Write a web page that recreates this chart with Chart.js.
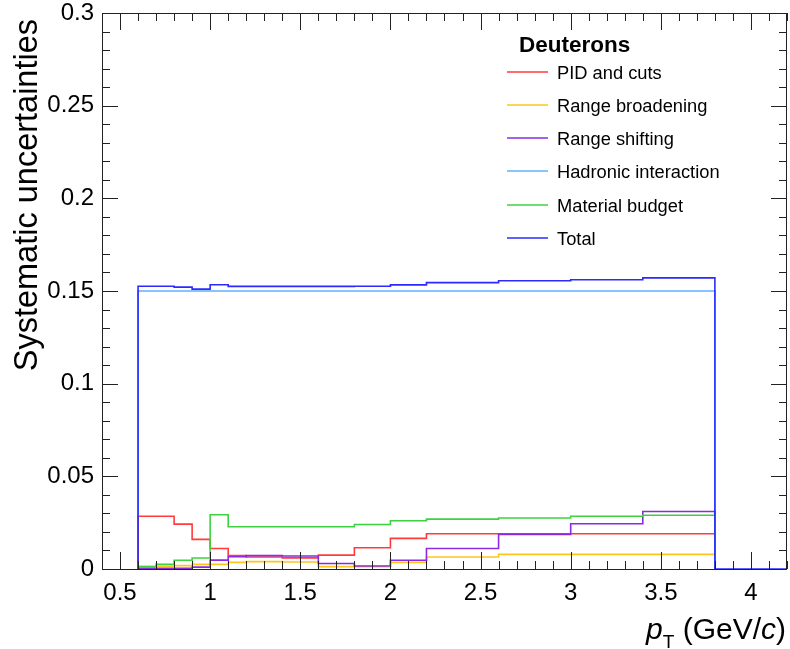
<!DOCTYPE html>
<html>
<head>
<meta charset="utf-8">
<script src="https://cdn.jsdelivr.net/npm/chart.js@4.4.1/dist/chart.umd.min.js"></script>
<style>
  html, body { margin: 0; padding: 0; background: #ffffff; }
  canvas { display: block; }
</style>
</head>
<body>
<canvas id="c" width="790" height="649"></canvas>
<script>
// ---- data ----
const binEdges = [0.6, 0.7, 0.8, 0.9, 1.0, 1.1, 1.2, 1.4, 1.6, 1.8, 2.0, 2.2, 2.6, 3.0, 3.4, 3.8];
const pidCuts        = [0.0285, 0.0285, 0.0242, 0.0160, 0.0111, 0.0072, 0.0065, 0.0060, 0.0075, 0.0115, 0.0165, 0.0190, 0.0190, 0.0190, 0.0190];
const rangeBroaden   = [0.0013, 0.0015, 0.0018, 0.0025, 0.0025, 0.0036, 0.0040, 0.0038, 0.0013, 0.0013, 0.0036, 0.0065, 0.0079, 0.0079, 0.0079];
const rangeShift     = [0.0004, 0.0004, 0.0004, 0.0010, 0.0048, 0.0066, 0.0072, 0.0070, 0.0030, 0.0016, 0.0047, 0.0111, 0.0187, 0.0244, 0.0310];
const hadronic       = [0.150, 0.150, 0.150, 0.150, 0.150, 0.150, 0.150, 0.150, 0.150, 0.150, 0.150, 0.150, 0.150, 0.150, 0.150];
const materialBudget = [0.0013, 0.0025, 0.0047, 0.0059, 0.0293, 0.0228, 0.0228, 0.0228, 0.0228, 0.0240, 0.0260, 0.0269, 0.0275, 0.0285, 0.0290];
const totalUnc       = [0.1526, 0.1526, 0.1521, 0.1510, 0.1534, 0.1525, 0.1525, 0.1525, 0.1525, 0.1526, 0.1533, 0.1545, 0.1555, 0.1561, 0.1571];
const seriesLabels = ["PID and cuts", "Range broadening", "Range shifting", "Hadronic interaction", "Material budget", "Total"];
const legendTitle = "Deuterons";
const xRange = [0.4, 4.2];
const yRange = [0, 0.3];
const xTickStep = 0.5;
const yTickStep = 0.05;

// ---- helpers ----
function histPoints(vals, extendTo) {
  const pts = [{x: binEdges[0], y: 0}];
  for (let i = 0; i < vals.length; i++) pts.push({x: binEdges[i], y: vals[i]});
  const last = binEdges[binEdges.length - 1];
  pts.push({x: last, y: vals[vals.length - 1]});
  pts.push({x: last, y: 0});
  if (extendTo !== undefined) pts.push({x: extendTo, y: 0});
  return pts;
}
const FONT = "'Liberation Sans', Arial, Helvetica, sans-serif";
const colors = ["#ff3b3b", "#ffc61a", "#8a2be2", "#62b0ff", "#3fd23f", "#2b2bff"];
const allVals = [pidCuts, rangeBroaden, rangeShift, hadronic, materialBudget, totalUnc];
const orders = [3, 5, 2, 4, 1, 0];

const datasets = allVals.map((v, i) => ({
  label: seriesLabels[i],
  data: histPoints(v, i === 5 ? xRange[1] : undefined),
  borderColor: colors[i],
  borderWidth: 1.6,
  pointRadius: 0,
  fill: false,
  stepped: 'before',
  tension: 0,
  order: orders[i]
}));

const decor = {
  id: 'decor',
  afterDraw(chart) {
    const ctx = chart.ctx;
    const xs = chart.scales.x, ys = chart.scales.y;
    const a = chart.chartArea;
    ctx.save();
    ctx.strokeStyle = '#222';
    ctx.lineWidth = 1;
    // frame
    ctx.strokeRect(Math.round(a.left) + 0.5, Math.round(a.top) + 0.5, Math.round(a.right - a.left) - 1, Math.round(a.bottom - a.top));
    // x ticks (top and bottom, inward)
    for (let k = Math.round(xRange[0] * 10); k <= Math.round(xRange[1] * 10); k++) {
      const v = k / 10;
      const px = Math.round(xs.getPixelForValue(v)) + 0.5;
      const major = (k % 5 === 0);
      const len = major ? 17 : 8;
      ctx.beginPath();
      ctx.moveTo(px, a.bottom); ctx.lineTo(px, a.bottom - len);
      ctx.moveTo(px, a.top); ctx.lineTo(px, a.top + len);
      ctx.stroke();
    }
    // y ticks (left and right, inward)
    for (let k = 0; k <= 30; k++) {
      const v = k / 100;
      const py = Math.round(ys.getPixelForValue(v)) + 0.5;
      const major = (k % 5 === 0);
      const len = major ? 16 : 8;
      ctx.beginPath();
      ctx.moveTo(a.left, py); ctx.lineTo(a.left + len, py);
      ctx.moveTo(a.right, py); ctx.lineTo(a.right - len, py);
      ctx.stroke();
    }
    // y title
    ctx.fillStyle = '#000';
    ctx.save();
    ctx.translate(28, 19);
    ctx.rotate(-Math.PI / 2);
    ctx.font = '32.5px ' + FONT;
    ctx.textAlign = 'right';
    ctx.textBaseline = 'middle';
    ctx.fillText('Systematic uncertainties', 0, 0);
    ctx.restore();
    // x title: p_T (GeV/c)
    const parts = [
      {t: 'p', f: 'italic 30px ' + FONT, dy: 0},
      {t: 'T', f: '19px ' + FONT, dy: 9},
      {t: ' (GeV/', f: '30px ' + FONT, dy: 0},
      {t: 'c', f: 'italic 30px ' + FONT, dy: 0},
      {t: ')', f: '30px ' + FONT, dy: 0}
    ];
    let w = 0;
    parts.forEach(p => { ctx.font = p.f; p.w = ctx.measureText(p.t).width; w += p.w; });
    let x0 = 786 - w;
    const base = 639;
    ctx.textAlign = 'left';
    ctx.textBaseline = 'alphabetic';
    parts.forEach(p => { ctx.font = p.f; ctx.fillText(p.t, x0, base + p.dy); x0 += p.w; });
    // legend
    ctx.font = 'bold 22.5px ' + FONT;
    ctx.textBaseline = 'middle';
    ctx.fillText(legendTitle, 519, 46);
    ctx.font = '18.3px ' + FONT;
    const legOrder = [0, 1, 2, 3, 4, 5];
    legOrder.forEach((di, r) => {
      const y = 72.5 + r * 33.3;
      ctx.strokeStyle = colors[di];
      ctx.lineWidth = 1.6;
      ctx.beginPath();
      ctx.moveTo(507, Math.round(y) - 1); ctx.lineTo(548, Math.round(y) - 1);
      ctx.stroke();
      ctx.fillStyle = '#000';
      ctx.fillText(seriesLabels[di], 557, y + 1);
    });
    ctx.restore();
  }
};

const fmt = v => String(+(+v).toFixed(3));

new Chart(document.getElementById('c'), {
  type: 'line',
  data: { datasets },
  options: {
    responsive: false,
    animation: false,
    devicePixelRatio: 1,
    layout: { padding: { left: 0, top: 13, right: 3, bottom: 0 } },
    plugins: { legend: { display: false }, tooltip: { enabled: false } },
    scales: {
      x: {
        type: 'linear',
        min: xRange[0], max: xRange[1],
        grid: { display: false, drawTicks: false },
        border: { display: false },
        ticks: {
          stepSize: xTickStep, includeBounds: false, autoSkip: false, maxRotation: 0,
          padding: 10, color: '#000', font: { family: FONT, size: 24 },
          callback: fmt
        },
        afterFit(s) { s.height = 80; s.paddingLeft = 0; s.paddingRight = 0; }
      },
      y: {
        type: 'linear',
        min: yRange[0], max: yRange[1],
        grid: { display: false, drawTicks: false },
        border: { display: false },
        ticks: {
          stepSize: yTickStep, autoSkip: false,
          padding: 8, color: '#000', font: { family: FONT, size: 24 },
          callback: fmt
        },
        afterFit(s) { s.width = 102; s.paddingTop = 0; s.paddingBottom = 0; }
      }
    }
  },
  plugins: [decor]
});
</script>
</body>
</html>
